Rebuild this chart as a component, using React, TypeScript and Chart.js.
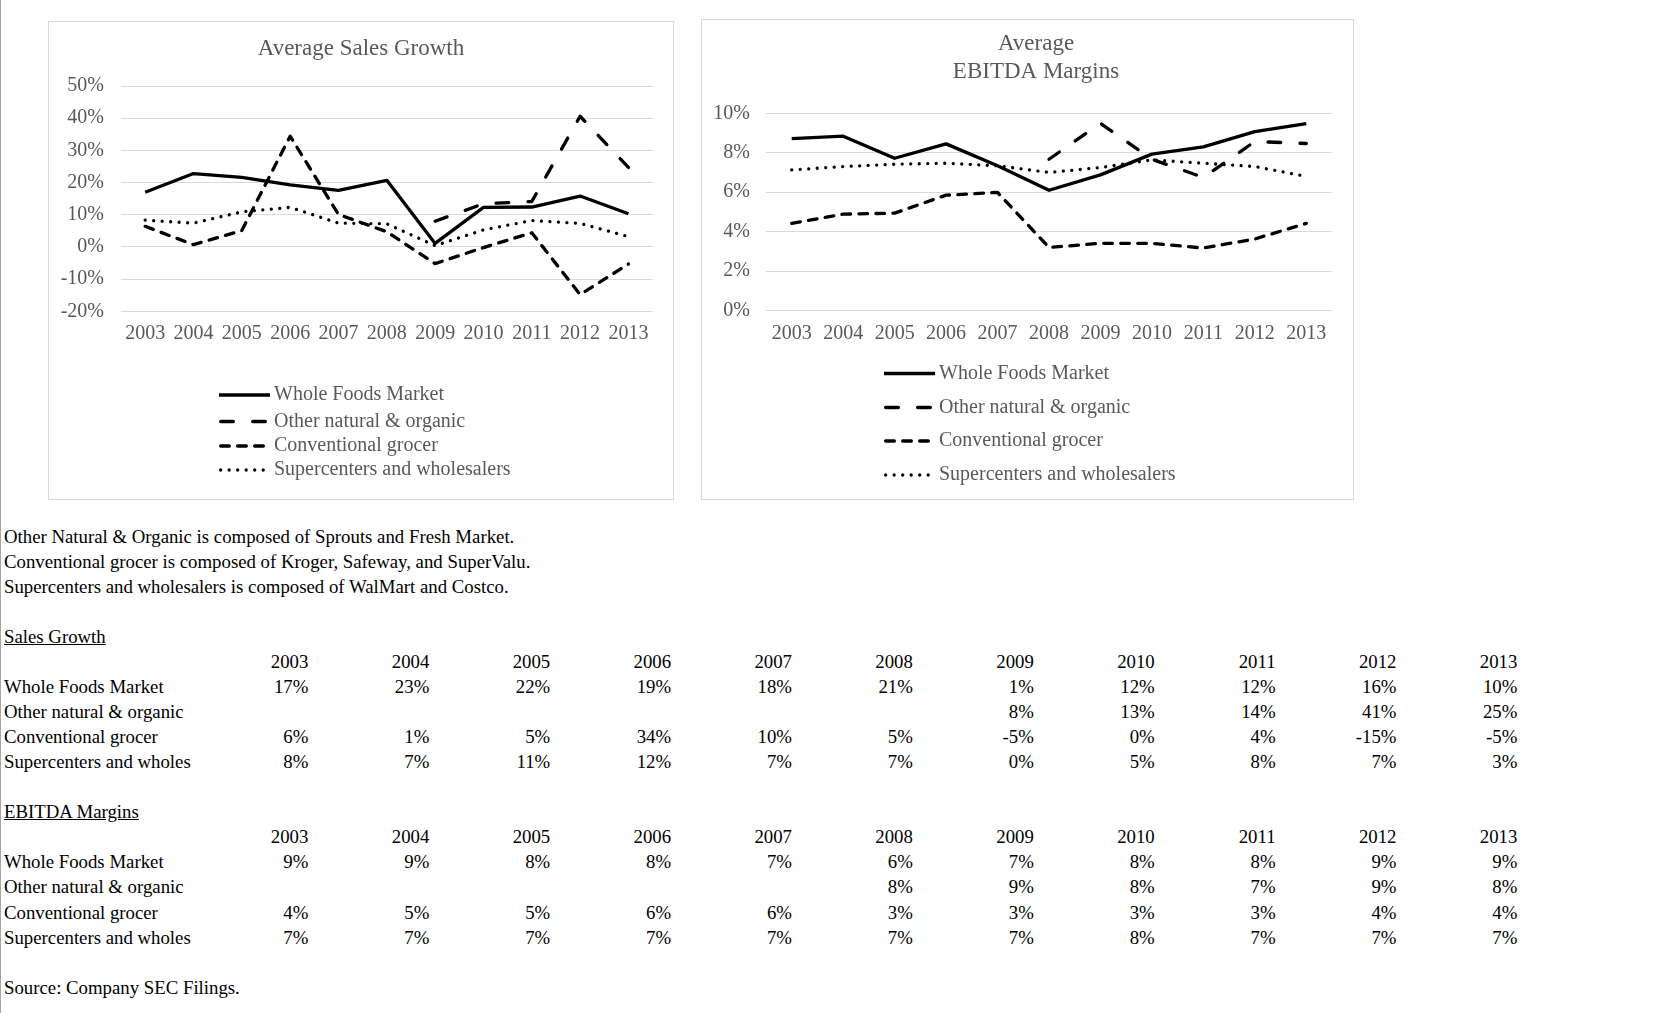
import React, { useEffect, useRef } from "react";
import { Chart, registerables } from "chart.js";

Chart.register(...registerables);

// ---------------- DATA ----------------
const years = ["2003", "2004", "2005", "2006", "2007", "2008", "2009", "2010", "2011", "2012", "2013"];

const seriesNames = [
  "Whole Foods Market",
  "Other natural & organic",
  "Conventional grocer",
  "Supercenters and wholesalers",
];

const salesWholeFoods = [17.0, 22.8, 21.6, 19.3, 17.6, 20.7, 1.1, 12.3, 12.4, 15.8, 10.3];
const salesOtherNatural = [null, null, null, null, null, null, 8.0, 13.4, 14.1, 40.6, 24.7];
const salesConventional = [6.4, 0.7, 5.1, 34.4, 10.1, 4.7, -5.2, -0.2, 4.4, -14.8, -5.3];
const salesSupercenters = [8.3, 7.4, 10.9, 12.3, 7.4, 7.2, 0.4, 5.3, 8.2, 7.3, 3.2];

const ebitdaWholeFoods = [8.72, 8.84, 7.72, 8.45, 7.34, 6.1, 6.88, 7.93, 8.3, 9.07, 9.48];
const ebitdaOtherNatural = [null, null, null, null, null, 7.67, 9.49, 7.67, 6.75, 8.57, 8.47];
const ebitdaConventional = [4.42, 4.89, 4.94, 5.85, 5.99, 3.2, 3.41, 3.41, 3.17, 3.63, 4.42];
const ebitdaSupercenters = [7.13, 7.3, 7.42, 7.47, 7.34, 7.0, 7.25, 7.64, 7.47, 7.3, 6.8];

const salesTicks = [-20, -10, 0, 10, 20, 30, 40, 50];
const ebitdaTicks = [0, 2, 4, 6, 8, 10];

const notes = [
  "Other Natural & Organic is composed of Sprouts and Fresh Market.",
  "Conventional grocer is composed of Kroger, Safeway, and SuperValu.",
  "Supercenters and wholesalers is composed of WalMart and Costco.",
];
const tableRowNames = [
  "Whole Foods Market",
  "Other natural & organic",
  "Conventional grocer",
  "Supercenters and wholes",
];
const salesTableWholeFoods = ["17%", "23%", "22%", "19%", "18%", "21%", "1%", "12%", "12%", "16%", "10%"];
const salesTableOther = ["", "", "", "", "", "", "8%", "13%", "14%", "41%", "25%"];
const salesTableConventional = ["6%", "1%", "5%", "34%", "10%", "5%", "-5%", "0%", "4%", "-15%", "-5%"];
const salesTableSupercenters = ["8%", "7%", "11%", "12%", "7%", "7%", "0%", "5%", "8%", "7%", "3%"];
const ebitdaTableWholeFoods = ["9%", "9%", "8%", "8%", "7%", "6%", "7%", "8%", "8%", "9%", "9%"];
const ebitdaTableOther = ["", "", "", "", "", "8%", "9%", "8%", "7%", "9%", "8%"];
const ebitdaTableConventional = ["4%", "5%", "5%", "6%", "6%", "3%", "3%", "3%", "3%", "4%", "4%"];
const ebitdaTableSupercenters = ["7%", "7%", "7%", "7%", "7%", "7%", "7%", "8%", "7%", "7%", "7%"];
const sourceNote = "Source: Company SEC Filings.";

// ---------------- STYLE ----------------
const FONT = "'Liberation Serif', 'Times New Roman', serif";
const GRAY = "#595959";
const LINE_W = 3.3;
const lineStyles = [
  { borderDash: [] as number[], borderCapStyle: "butt" },
  { borderDash: [12.7, 19.3], borderCapStyle: "round" },
  { borderDash: [8.7, 8.3], borderCapStyle: "round" },
  { borderDash: [0.01, 8.5], borderCapStyle: "round" },
];

function makeDatasets(series: (number | null)[][]) {
  return series.map((data, i) => ({
    label: seriesNames[i],
    data,
    borderColor: "#000000",
    backgroundColor: "#000000",
    borderWidth: LINE_W,
    borderDash: lineStyles[i].borderDash,
    borderCapStyle: lineStyles[i].borderCapStyle as CanvasLineCap,
    borderJoinStyle: "round" as CanvasLineJoin,
    pointRadius: 0,
    tension: 0,
    spanGaps: false,
    fill: false,
  }));
}

type Layout = {
  width: number;
  height: number;
  plotLeft: number;
  plotRight: number;
  plotTop: number;
  plotBottom: number;
  yLabelGap: number;
  xLabelPad: number;
  titleLines: string[];
  titleX: number;
  titleYs: number[];
  legendX1: number;
  legendX2: number;
  legendTextX: number;
  legendYs: number[];
};

function overlayPlugin(L: Layout) {
  return {
    id: "overlay",
    afterDraw(chart: any) {
      const ctx = chart.ctx as CanvasRenderingContext2D;
      ctx.save();
      ctx.fillStyle = GRAY;
      ctx.font = `23px ${FONT}`;
      ctx.textAlign = "center";
      ctx.textBaseline = "middle";
      L.titleLines.forEach((t, i) => ctx.fillText(t, L.titleX, L.titleYs[i]));
      chart.data.datasets.forEach((ds: any, i: number) => {
        const y = L.legendYs[i];
        ctx.beginPath();
        ctx.setLineDash(ds.borderDash || []);
        ctx.lineWidth = ds.borderWidth;
        ctx.strokeStyle = ds.borderColor;
        ctx.lineCap = ds.borderCapStyle;
        const capInset = ds.borderCapStyle === "round" ? ds.borderWidth / 2 : 0;
        ctx.moveTo(L.legendX1 + capInset, y);
        ctx.lineTo(L.legendX2 - capInset, y);
        ctx.stroke();
        ctx.setLineDash([]);
        ctx.fillStyle = GRAY;
        ctx.font = `20px ${FONT}`;
        ctx.textAlign = "left";
        ctx.textBaseline = "middle";
        ctx.fillText(ds.label, L.legendTextX, y);
      });
      ctx.restore();
    },
  };
}

function LineChartBox(props: {
  left: number;
  top: number;
  L: Layout;
  series: (number | null)[][];
  ticks: number[];
}) {
  const ref = useRef<HTMLCanvasElement | null>(null);
  const { L, series, ticks } = props;
  useEffect(() => {
    if (!ref.current) return;
    const xAxisHeight = 40;
    const cw = L.width - 2;
    const ch = L.height - 2;
    const chart = new Chart(ref.current, {
      type: "line",
      data: { labels: years, datasets: makeDatasets(series) as any },
      options: {
        responsive: false,
        animation: false,
        maintainAspectRatio: false,
        layout: {
          padding: {
            left: 0,
            right: cw - L.plotRight,
            top: L.plotTop,
            bottom: ch - L.plotBottom - xAxisHeight,
          },
        },
        plugins: {
          legend: { display: false },
          title: { display: false },
          tooltip: { enabled: false },
        },
        scales: {
          x: {
            type: "category",
            offset: true,
            grid: { display: false, drawTicks: false },
            border: { display: false },
            ticks: {
              color: GRAY,
              font: { family: FONT, size: 20 },
              padding: L.xLabelPad,
              maxRotation: 0,
              autoSkip: false,
            },
            afterFit: (s: any) => {
              s.height = xAxisHeight;
            },
          },
          y: {
            min: ticks[0],
            max: ticks[ticks.length - 1],
            afterBuildTicks: (s: any) => {
              s.ticks = ticks.map((v) => ({ value: v }));
            },
            grid: { color: "#d9d9d9", lineWidth: 1, drawTicks: false },
            border: { display: false },
            ticks: {
              color: GRAY,
              font: { family: FONT, size: 20 },
              padding: L.yLabelGap,
              callback: (v: any) => `${v}%`,
            },
            afterFit: (s: any) => {
              s.width = L.plotLeft;
            },
          },
        },
      },
      plugins: [overlayPlugin(L)],
    });
    return () => chart.destroy();
  }, []);
  return (
    <div
      style={{
        position: "absolute",
        left: props.left,
        top: props.top,
        width: L.width,
        height: L.height,
        border: "1px solid #d9d9d9",
        boxSizing: "border-box",
        background: "#fff",
      }}
    >
      <canvas
        ref={ref}
        width={L.width - 2}
        height={L.height - 2}
        style={{ display: "block", width: L.width - 2, height: L.height - 2 }}
      />
    </div>
  );
}

const salesLayout: Layout = {
  width: 626,
  height: 479,
  plotLeft: 72,
  plotRight: 603.6,
  plotTop: 64,
  plotBottom: 289.3,
  yLabelGap: 17,
  xLabelPad: 10.7,
  titleLines: ["Average Sales Growth"],
  titleX: 312,
  titleYs: [27],
  legendX1: 170,
  legendX2: 221,
  legendTextX: 225,
  legendYs: [373, 399.5, 424, 448],
};

const ebitdaLayout: Layout = {
  width: 653,
  height: 481,
  plotLeft: 64,
  plotRight: 630,
  plotTop: 93.3,
  plotBottom: 290.6,
  yLabelGap: 16,
  xLabelPad: 11.4,
  titleLines: ["Average", "EBITDA Margins"],
  titleX: 334,
  titleYs: [24, 52],
  legendX1: 182,
  legendX2: 233,
  legendTextX: 237,
  legendYs: [353.5, 387.5, 421, 455],
};

// ---------------- TABLE ----------------
const ROW0 = 536.7;
const ROWH = 25.02;
const COL_RIGHT0 = 308.4;
const COLW = 120.9;
const textStyle: React.CSSProperties = {
  position: "absolute",
  fontFamily: FONT,
  fontSize: 18.8,
  lineHeight: "25px",
  height: 25,
  color: "#000",
  whiteSpace: "nowrap",
};

function rowTop(i: number) {
  return ROW0 + ROWH * i - 12.5;
}

function TextLine(props: { row: number; text: string; underline?: boolean }) {
  return (
    <div
      style={{
        ...textStyle,
        left: 4,
        top: rowTop(props.row),
        textDecoration: props.underline ? "underline" : "none",
      }}
    >
      {props.text}
    </div>
  );
}

function Cells(props: { row: number; values: string[] }) {
  return (
    <>
      {props.values.map((v, j) => (
        <div
          key={j}
          style={{
            ...textStyle,
            left: COL_RIGHT0 + COLW * j - 100,
            width: 100,
            textAlign: "right",
            top: rowTop(props.row),
          }}
        >
          {v}
        </div>
      ))}
    </>
  );
}

function DataTable(props: { startRow: number; title: string; rows: string[][] }) {
  const r = props.startRow;
  return (
    <>
      <TextLine row={r} text={props.title} underline />
      <Cells row={r + 1} values={years} />
      {props.rows.map((vals, i) => (
        <React.Fragment key={i}>
          <TextLine row={r + 2 + i} text={tableRowNames[i]} />
          <Cells row={r + 2 + i} values={vals} />
        </React.Fragment>
      ))}
    </>
  );
}

export default function App() {
  return (
    <div
      style={{
        position: "absolute",
        left: 0,
        top: 0,
        width: 1673,
        height: 1013,
        background: "#fff",
        overflow: "hidden",
      }}
    >
      <div style={{ position: "absolute", left: 0, top: 0, width: 1, height: 1013, background: "#a6a6a6" }} />
      <LineChartBox
        left={48}
        top={21}
        L={salesLayout}
        series={[salesWholeFoods, salesOtherNatural, salesConventional, salesSupercenters]}
        ticks={salesTicks}
      />
      <LineChartBox
        left={701}
        top={19}
        L={ebitdaLayout}
        series={[ebitdaWholeFoods, ebitdaOtherNatural, ebitdaConventional, ebitdaSupercenters]}
        ticks={ebitdaTicks}
      />
      {notes.map((n, i) => (
        <TextLine key={i} row={i} text={n} />
      ))}
      <DataTable
        startRow={4}
        title="Sales Growth"
        rows={[salesTableWholeFoods, salesTableOther, salesTableConventional, salesTableSupercenters]}
      />
      <DataTable
        startRow={11}
        title="EBITDA Margins"
        rows={[ebitdaTableWholeFoods, ebitdaTableOther, ebitdaTableConventional, ebitdaTableSupercenters]}
      />
      <TextLine row={18} text={sourceNote} />
    </div>
  );
}
